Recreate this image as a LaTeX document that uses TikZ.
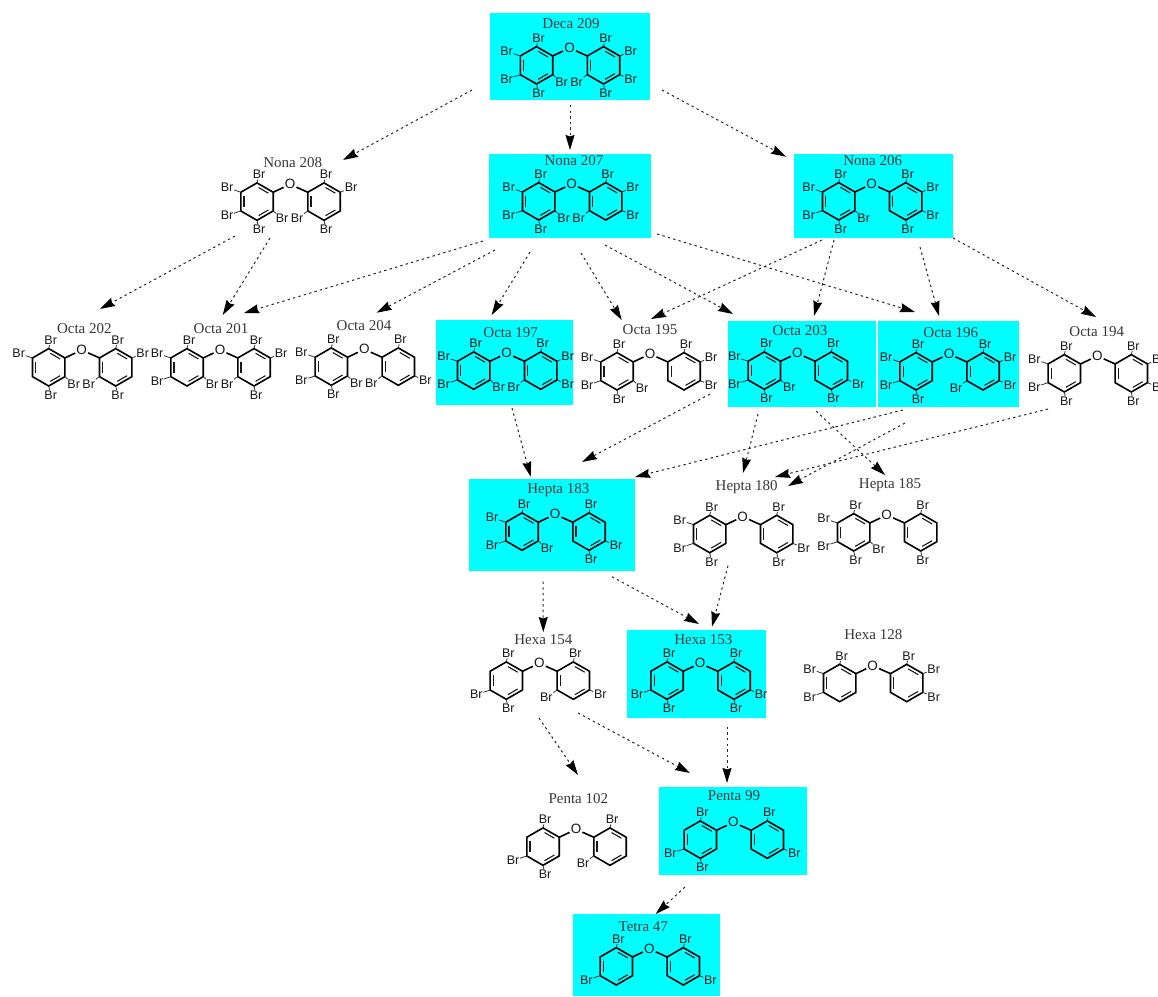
\documentclass[tikz,border=0pt]{standalone}
\usepackage{fontspec}
\setmainfont{Liberation Serif}
\newfontfamily\brfont{Liberation Sans}
\usetikzlibrary{calc,arrows.meta}
\definecolor{boxcyan}{RGB}{0,255,255}
\tikzset{
  cyanbox/.style={fill=boxcyan,draw=none,inner sep=0pt,outer sep=0pt},
  plainbox/.style={draw=none,inner sep=0pt,outer sep=0pt,minimum width=130pt,minimum height=90pt},
  bond/.style={line width=1.6pt,line join=miter,black},
  innerbond/.style={line width=1.1pt,black!90},
  stub/.style={line width=0.8pt,black!80},
  molname/.style={font=\fontsize{15}{15}\selectfont,text=black!78,inner sep=0pt},
  brm/.style={font=\brfont\fontsize{12.5}{12.5}\selectfont,inner sep=0.6pt,text=black!90},
  oxy/.style={font=\brfont\fontsize{13.5}{13.5}\selectfont,inner sep=1pt,text=black!90},
  edge/.style={dash pattern=on 2.4pt off 3.2pt,line width=1pt,black!85,
     -{Stealth[length=15pt,width=9pt,inset=1.5pt,color=black]}},
  LT/.style={xshift=-31pt,yshift=10pt},
  LU/.style={xshift=-63pt,yshift=-3.3pt},
  LL/.style={xshift=-63pt,yshift=-31.3pt},
  LB/.style={xshift=-31pt,yshift=-45.3pt},
  LI/.style={xshift=-8pt,yshift=-34.3pt},
  RT/.style={xshift=36pt,yshift=10pt},
  RU/.style={xshift=61pt,yshift=-3.3pt},
  RL/.style={xshift=61pt,yshift=-31.3pt},
  RB/.style={xshift=36pt,yshift=-45.3pt},
  RI/.style={xshift=7pt,yshift=-34.3pt},
}
% ring vertices relative to the O atom, named per substituent site
\def\vLT{-33,-1.4}\def\vLU{-49.2,7.95}\def\vLL{-49.2,26.65}\def\vLB{-33,36}\def\vLI{-16.8,26.65}
\def\vRT{34,-1.4}\def\vRU{50.2,7.95}\def\vRL{50.2,26.65}\def\vRB{34,36}\def\vRI{17.8,26.65}
\newcommand\benzene[2]{%
  \begin{scope}[shift={($(#1)+(#2,17.3)$)}]
    \draw[bond] (0,-18.7)--(16.2,-9.35)--(16.2,9.35)--(0,18.7)--(-16.2,9.35)--(-16.2,-9.35)--cycle;
    \draw[innerbond] (1.56,-14.06)--(11.4,-8.38);
    \draw[innerbond] (-12.96,-5.68)--(-12.96,5.68);
    \draw[innerbond] (11.4,8.38)--(1.56,14.06);
  \end{scope}}
% id, O x, O y, label x, label y, label, left Br sites, right Br sites
\newcommand\mol[8]{%
  \node[oxy] (#1-O) at (#2,#3) {O};
  \node[molname] (#1-name) at (#4,#5) {#6};
  \benzene{#1-O}{-33}
  \benzene{#1-O}{34}
  \draw[bond] ($(#1-O)+(-16.8,7.95)$) -- (#1-O);
  \draw[bond] ($(#1-O)+(17.8,7.95)$) -- (#1-O);
  \foreach \k in {#7} {\node[brm,L\k,name=#1-L\k] at (#1-O) {Br};
    \edef\tmpv{\csname vL\k\endcsname}
    \draw[stub] ($(#1-O)+(\tmpv)$) -- (#1-L\k);}
  \foreach \k in {#8} {\node[brm,R\k,name=#1-R\k] at (#1-O) {Br};
    \edef\tmpv{\csname vR\k\endcsname}
    \draw[stub] ($(#1-O)+(\tmpv)$) -- (#1-R\k);}
}
\newcommand\cbox[5]{\node[cyanbox,minimum width=#4pt,minimum height=#5pt] (#1) at (#2,#3) {};}
\newcommand\pbox[3]{\node[plainbox] (#1) at (#2,#3) {};}
\newcommand\conn[6]{\draw[edge] ($(#1.center)+(#3,#4)$) -- ($(#2.center)+(#5,#6)$);}
\begin{document}
\begin{tikzpicture}[x=1pt,y=-1pt]
\useasboundingbox (0,0) rectangle (1158,996);
\clip (0,0) rectangle (1158,996);
% boxes
\cbox{d209}{570}{56.5}{160}{87}
\cbox{n207}{570}{196}{162}{84}
\cbox{n206}{873.5}{196}{159}{84}
\pbox{n208}{290}{200}
\pbox{o202}{82}{360}
\pbox{o201}{220}{360}
\pbox{o204}{364}{360}
\cbox{o197}{504.5}{362.5}{137}{85}
\pbox{o195}{650}{362}
\cbox{o203}{802}{364}{148}{86}
\cbox{o196}{948.5}{364}{141}{86}
\pbox{o194}{1097}{364}
\cbox{h183}{551.5}{524.5}{166}{92}
\pbox{h180}{743}{525}
\pbox{h185}{887}{525}
\pbox{x154}{539}{675}
\cbox{x153}{696.5}{674}{139}{88}
\pbox{x128}{873}{675}
\pbox{p102}{576}{840}
\cbox{p99}{733}{831}{148}{88}
\cbox{t47}{646}{954.75}{147}{82.5}
% molecules
\mol{m209}{569.5}{48}{571}{24}{Deca 209}{T,U,L,B,I}{T,U,L,B,I}
\mol{m207}{571.7}{184}{574}{161}{Nona 207}{T,U,L,B,I}{T,U,L,I}
\mol{m206}{871.7}{184}{872.7}{161}{Nona 206}{T,U,L,B,I}{T,U,L,B}
\mol{m208}{290}{184.3}{292.7}{162.7}{Nona 208}{T,U,L,B,I}{T,U,B,I}
\mol{m202}{81.7}{350}{84.3}{328.7}{Octa 202}{T,U,B,I}{T,U,B,I}
\mol{m201}{220}{350}{221}{328.7}{Octa 201}{T,U,L,I}{T,U,B,I}
\mol{m204}{364.3}{349.3}{364}{326}{Octa 204}{T,U,L,B,I}{T,L,I}
\mol{m197}{506.7}{353.3}{510.7}{332.3}{Octa 197}{T,U,L,I}{T,U,L,I}
\mol{m195}{650}{354}{650}{330}{Octa 195}{T,U,L,B,I}{T,U,L}
\mol{m203}{797.3}{353.3}{800}{330.7}{Octa 203}{T,U,L,B,I}{T,L,B}
\mol{m196}{949}{354}{950.7}{332.3}{Octa 196}{T,U,L,B}{T,U,L,I}
\mol{m194}{1097.3}{356}{1096.7}{331.7}{Octa 194}{T,U,L,B}{T,U,L,B}
\mol{m183}{555}{514.3}{558.3}{490}{Hepta 183}{T,U,L,I}{T,L,B}
\mol{m180}{742.7}{516.7}{746.7}{487.3}{Hepta 180}{T,U,L,B}{T,L,B}
\mol{m185}{886.7}{515}{890}{485}{Hepta 185}{T,U,L,B,I}{T,B}
\mol{m154}{539.3}{663.3}{543.3}{640}{Hexa 154}{T,L,B}{T,L,I}
\mol{m153}{700}{663.3}{703.3}{640}{Hexa 153}{T,L,B}{T,L,B}
\mol{m128}{872.7}{665.7}{873.3}{635}{Hexa 128}{T,U,L}{T,U,L}
\mol{m102}{576}{829.3}{578.3}{798.3}{Penta 102}{T,L,B}{T,I}
\mol{m99}{733.3}{822.3}{734}{795.7}{Penta 99}{T,L,B}{T,L}
\mol{m47}{649.3}{949}{643.3}{926.7}{Tetra 47}{T,L}{T,L}
% connectors
\conn{d209}{n208}{-98}{33.5}{53}{-40}
\conn{d209}{n207}{0}{48.5}{0}{-46}
\conn{d209}{n206}{92}{33.5}{-87.5}{-39.3}
\conn{n208}{o202}{-55}{36}{18}{-51}
\conn{n208}{o201}{-20}{38}{2.7}{-45}
\conn{n207}{o201}{-87}{45}{24}{-47}
\conn{n207}{o204}{-75}{54}{12.7}{-47.3}
\conn{n207}{o197}{-40}{56}{-12.8}{-47.5}
\conn{n207}{o195}{11}{57}{-28.3}{-42}
\conn{n207}{o203}{35}{49}{-69}{-50}
\conn{n207}{o196}{87}{38}{-33.5}{-52}
\conn{n206}{o195}{-51.5}{44}{1}{-43}
\conn{n206}{o203}{-39.5}{44}{12}{-48}
\conn{n206}{o196}{46.5}{51}{-9.5}{-48}
\conn{n206}{o194}{79.5}{42}{-1}{-47}
\conn{o197}{h183}{7.5}{45.5}{-20.8}{-47.8}
\conn{o195}{h183}{60}{32}{30.5}{-62.5}
\conn{o196}{h183}{-45.5}{46}{83.5}{-47.5}
\conn{o203}{h180}{-44}{50}{0}{-52}
\conn{o203}{h185}{14}{47}{-2}{-50}
\conn{o196}{h180}{-43.5}{59}{45}{-39}
\conn{o194}{h180}{-49}{45}{32}{-48}
\conn{h183}{x154}{-8.5}{57.2}{4.3}{-43}
\conn{h183}{x153}{60.5}{52.2}{2.5}{-50}
\conn{h180}{x153}{-15}{40.7}{15.5}{-47.3}
\conn{x154}{p102}{0}{43}{2}{-65}
\conn{x154}{p99}{39}{38}{-43}{-58}
\conn{x153}{p99}{30.5}{52.7}{-6}{-48}
\conn{p99}{t47}{-48}{56}{9.7}{-40.75}
\end{tikzpicture}
\end{document}
